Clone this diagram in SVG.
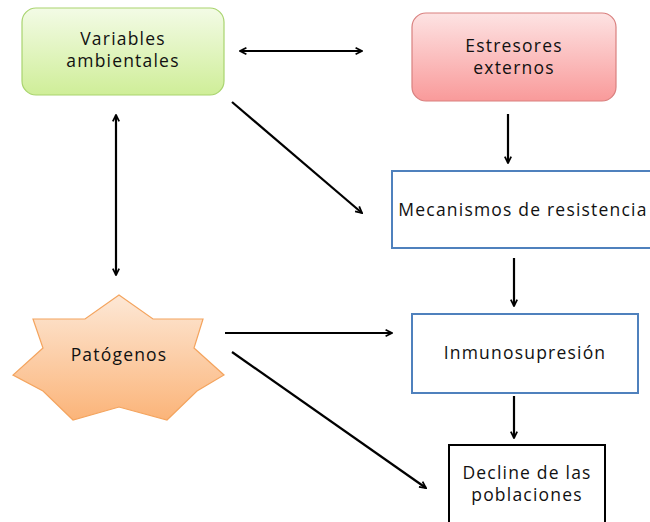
<svg xmlns="http://www.w3.org/2000/svg" width="650" height="522" viewBox="0 0 650 522">
<defs>
<linearGradient id="gGreen" x1="0" y1="0" x2="0" y2="1"><stop offset="0" stop-color="#f3fbe6"/><stop offset="1" stop-color="#cfee98"/></linearGradient>
<linearGradient id="gRed" x1="0" y1="0" x2="0" y2="1"><stop offset="0" stop-color="#fde3e3"/><stop offset="1" stop-color="#f99a9a"/></linearGradient>
<linearGradient id="gOrange" x1="0" y1="0" x2="0" y2="1"><stop offset="0" stop-color="#fde8d6"/><stop offset="1" stop-color="#fbb479"/></linearGradient>
<marker id="ah" viewBox="0 0 10 10" refX="9" refY="5" markerWidth="8" markerHeight="8" orient="auto-start-reverse" markerUnits="userSpaceOnUse">
<path d="M1,1 L9,5 L1,9" fill="none" stroke="#000" stroke-width="2.2"/>
</marker>
</defs>
<style>
text{font-family:"Open Sans","Liberation Sans",sans-serif;font-size:17.5px;letter-spacing:1.2px;fill:#111;text-anchor:middle}
.c{stroke:#000;stroke-width:2.2;fill:none}
.blue{fill:#fff;stroke:#4f81bd;stroke-width:2}
</style>
<g id="connectors">
<line class="c" x1="240" y1="51" x2="362" y2="51" marker-start="url(#ah)" marker-end="url(#ah)"/>
<line class="c" x1="116" y1="115" x2="116" y2="275" marker-start="url(#ah)" marker-end="url(#ah)"/>
<line class="c" x1="232" y1="102" x2="362" y2="213" marker-end="url(#ah)"/>
<line class="c" x1="508" y1="114" x2="508" y2="163" marker-end="url(#ah)"/>
<line class="c" x1="514" y1="258" x2="514" y2="306" marker-end="url(#ah)"/>
<line class="c" x1="225" y1="333" x2="392" y2="333" marker-end="url(#ah)"/>
<line class="c" x1="514" y1="396" x2="514" y2="438" marker-end="url(#ah)"/>
<line class="c" x1="232" y1="352" x2="426" y2="488" marker-end="url(#ah)"/>
</g>
<g id="variables">
<rect x="22" y="8" width="202" height="87" rx="14" fill="url(#gGreen)" stroke="#a9d46f" stroke-width="1.2"/>
<text x="123" y="45">Variables</text>
<text x="123" y="67">ambientales</text>
</g>
<g id="estresores">
<rect x="412" y="13" width="204" height="88" rx="14" fill="url(#gRed)" stroke="#d9807f" stroke-width="1.2"/>
<text x="514" y="52">Estresores</text>
<text x="514" y="74">externos</text>
</g>
<g id="mecanismos">
<rect class="blue" x="392" y="171" width="270" height="77"/>
<text x="523" y="216">Mecanismos de resistencia</text>
</g>
<g id="patogenos">
<polygon points="119,295 153,319 203,319 194,348 224,375 197,391 167,420 119,407 73,420 43,391 13,375 43,348 33,319 85,319" fill="url(#gOrange)" stroke="#f4a45e" stroke-width="1.2" stroke-linejoin="miter"/>
<text x="119" y="361">Patógenos</text>
</g>
<g id="inmunosupresion">
<rect class="blue" x="412" y="314" width="226" height="79"/>
<text x="525" y="359">Inmunosupresión</text>
</g>
<g id="decline">
<rect x="449" y="445" width="156" height="90" fill="#fff" stroke="#000" stroke-width="2"/>
<text x="527" y="479">Decline de las</text>
<text x="527" y="501">poblaciones</text>
</g>
</svg>
